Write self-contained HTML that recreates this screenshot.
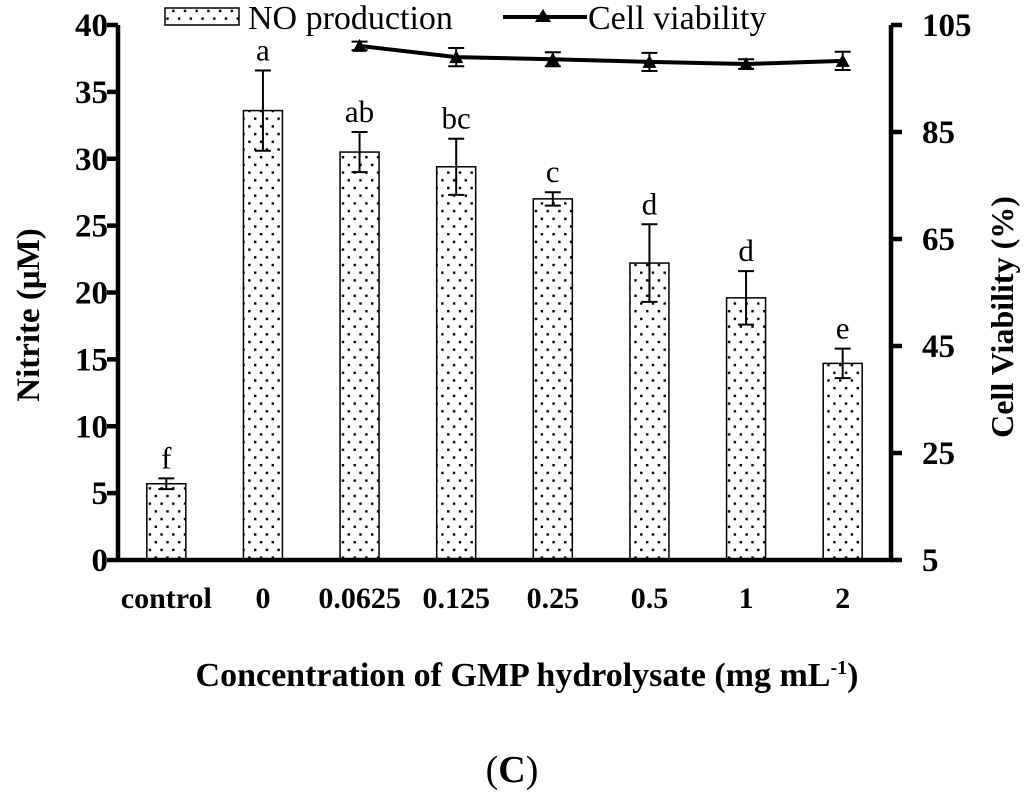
<!DOCTYPE html>
<html><head><meta charset="utf-8"><style>
body{margin:0;background:#fff}
svg text{font-family:"Liberation Serif",serif}
</style></head><body>
<svg id="chart" width="1024" height="795" viewBox="0 0 1024 795">
<defs>
<pattern id="dots" width="11.7" height="15.4" patternUnits="userSpaceOnUse">
<rect x="2.5" y="2" width="2.4" height="2.4" fill="#000"/>
<rect x="8.3" y="9.7" width="2.4" height="2.4" fill="#000"/>
</pattern>
</defs>
<g id="bars"></g>
<g id="axes"></g>
<g id="line"></g>
<g id="legend">
<rect x="165" y="8" width="74" height="17" fill="url(#dots)" stroke="#000" stroke-width="1.5"/>
<text x="248" y="29" font-size="34">NO production</text>
<line x1="503" y1="17" x2="587" y2="17" stroke="#000" stroke-width="4"/>
<polygon points="543,9 551,22 535,22" fill="#000"/>
<text x="588" y="29" font-size="34">Cell viability</text>
</g>
<text x="0" y="0" transform="translate(39,315) rotate(-90)" text-anchor="middle" font-size="33" font-weight="bold">Nitrite (μM)</text>
<text x="0" y="0" transform="translate(1013,317) rotate(-90)" text-anchor="middle" font-size="32" font-weight="bold">Cell Viability (%)</text>
<text x="527" y="686" text-anchor="middle" font-size="34" font-weight="bold">Concentration of GMP hydrolysate (mg mL<tspan dy="-12" font-size="20">-1</tspan><tspan dy="12">)</tspan></text>
<text x="512" y="782" text-anchor="middle" font-size="38">(<tspan font-weight="bold">C</tspan>)</text>
</svg>
<script>
const categories=["control","0","0.0625","0.125","0.25","0.5","1","2"];
const nitrite=[5.7,33.6,30.5,29.4,27.0,22.2,19.6,14.7];
const nitriteErr=[0.4,3.0,1.5,2.1,0.5,2.9,2.0,1.1];
const letters=["f","a","ab","bc","c","d","d","e"];
const viabIdx=[2,3,4,5,6,7];
const viability=[101.1,99.0,98.6,98.1,97.7,98.3];
const viabErr=[0.8,1.7,1.3,1.7,0.9,1.7];
const leftTicks=[0,5,10,15,20,25,30,35,40];
const rightTicks=[5,25,45,65,85,105];

const NS="http://www.w3.org/2000/svg";
const X0=118,X1=891,Y0=560,Y1=25;
const bw=(X1-X0)/categories.length;
const xc=i=>X0+bw*(i+0.5);
const yL=v=>Y0-(v-0)/(40-0)*(Y0-Y1);
const yR=v=>Y0-(v-5)/(105-5)*(Y0-Y1);
function mk(tag,attrs,parent){const e=document.createElementNS(NS,tag);for(const k in attrs)e.setAttribute(k,attrs[k]);parent.appendChild(e);return e;}
const gb=document.getElementById('bars'),ga=document.getElementById('axes'),gl=document.getElementById('line');
nitrite.forEach((v,i)=>{
  const r=mk('rect',{x:xc(i)-19.5,y:yL(v),width:39,height:Y0-yL(v),fill:'url(#dots)',stroke:'#000','stroke-width':1.5},gb);
  
  
  const e=nitriteErr[i],t=yL(v+e),b=yL(v-e);
  const eb=mk('path',{d:`M${xc(i)},${t}V${b}M${xc(i)-8},${t}H${xc(i)+8}M${xc(i)-8},${b}H${xc(i)+8}`,stroke:'#000','stroke-width':2,fill:'none'},gb);
  
  
  const tx=mk('text',{x:xc(i),y:t-10,'text-anchor':'middle','font-size':31},gb);tx.textContent=letters[i];
  
  
  const xl=mk('text',{x:xc(i),y:608,'text-anchor':'middle','font-size':30,'font-weight':'bold'},ga);xl.textContent=categories[i];
  
  
});
const ax=mk('path',{d:`M${X0},${Y1}V${Y0}H${X1}V${Y1}`,stroke:'#000','stroke-width':4.5,fill:'none'},ga);


leftTicks.forEach(v=>{
  mk('line',{x1:X0-11,x2:X0,y1:yL(v),y2:yL(v),stroke:'#000','stroke-width':4.5},ga);
  const t=mk('text',{x:X0-10,y:yL(v)+11,'text-anchor':'end','font-size':33,'font-weight':'bold'},ga);t.textContent=v;
  
  
});
rightTicks.forEach(v=>{
  mk('line',{x1:X1,x2:X1+11,y1:yR(v),y2:yR(v),stroke:'#000','stroke-width':4.5},ga);
  const t=mk('text',{x:X1+31,y:yR(v)+11,'text-anchor':'start','font-size':33,'font-weight':'bold'},ga);t.textContent=v;
  
  
});
const pts=viability.map((v,k)=>[xc(viabIdx[k]),yR(v)]);
const pl=mk('polyline',{points:pts.map(p=>p.join(',')).join(' '),stroke:'#000','stroke-width':4,fill:'none'},gl);


pts.forEach((p,k)=>{
  const e=viabErr[k],t=yR(viability[k]+e),b=yR(viability[k]-e);
  mk('path',{d:`M${p[0]},${t}V${b}M${p[0]-8},${t}H${p[0]+8}M${p[0]-8},${b}H${p[0]+8}`,stroke:'#000','stroke-width':2,fill:'none'},gl);
  const m=mk('polygon',{points:`${p[0]},${p[1]-7} ${p[0]+7},${p[1]+6} ${p[0]-7},${p[1]+6}`,fill:'#000'},gl);
  
  
});
</script>
</body></html>
